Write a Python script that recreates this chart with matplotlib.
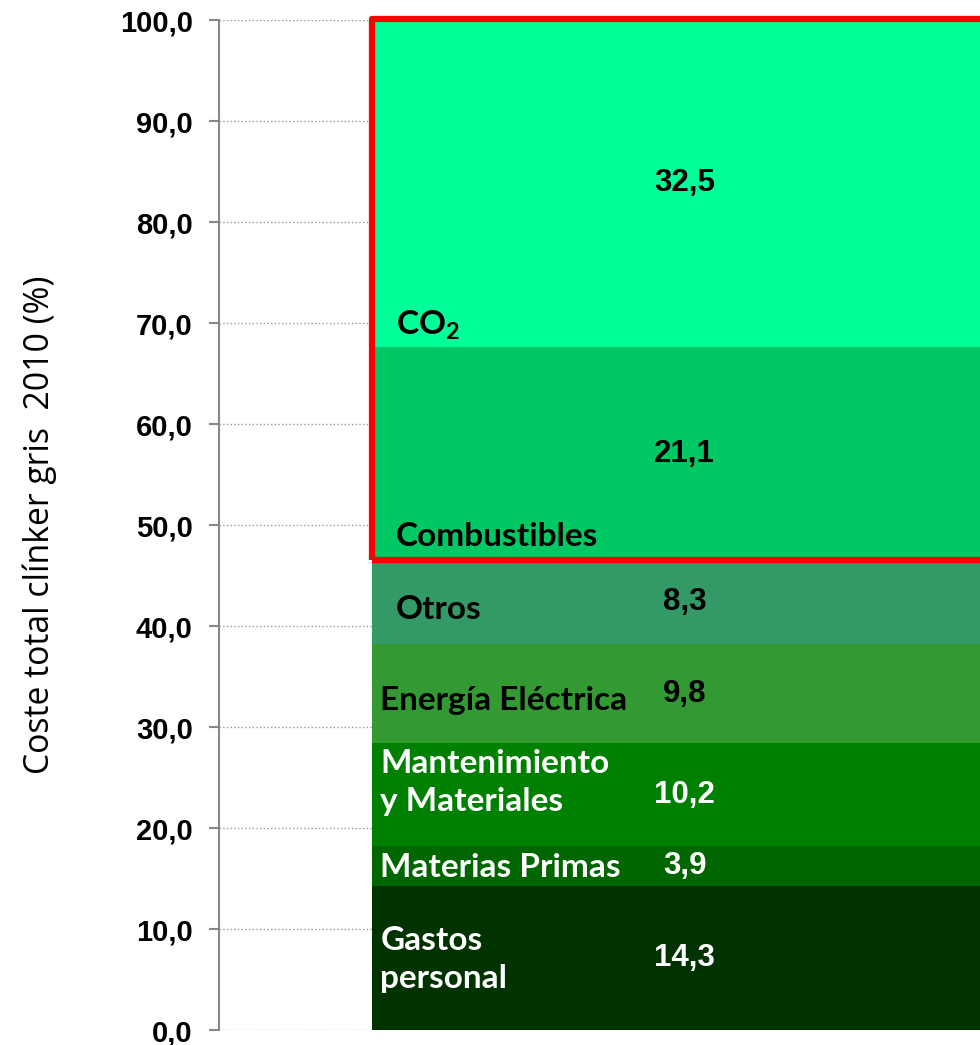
import matplotlib.pyplot as plt
from matplotlib.patches import Rectangle

plt.rcParams['mathtext.fontset'] = 'custom'
plt.rcParams['mathtext.bf'] = 'Lato:bold'
plt.rcParams['mathtext.rm'] = 'Lato:bold'

# segments from bottom to top
cats = ['Gastos\npersonal', 'Materias Primas', 'Mantenimiento\ny Materiales',
        'Energía Eléctrica', 'Otros', 'Combustibles', r'CO$_\mathbf{2}$']
vals = [14.3, 3.9, 10.2, 9.8, 8.3, 21.1, 32.5]
val_txt = ['14,3', '3,9', '10,2', '9,8', '8,3', '21,1', '32,5']
cols = ['#003300', '#006600', '#008000', '#339933', '#339966', '#00C864', '#00FF99']
txt_cols = ['white', 'white', 'white', 'black', 'black', 'black', 'black']

# where the category names sit (y) and their left offset
name_y = [7.0, 16.1, 24.5, 32.6, 41.6, 48.9, 69.8]
name_x = [0.212, 0.212, 0.212, 0.212, 0.232, 0.232, 0.232]

fig = plt.figure(figsize=(9.8, 10.45), dpi=100)
ax = fig.add_axes([0.2235, 0.01435, 0.7765, 0.9665])

x0 = 0.201
bot = 0
for i in range(len(vals)):
    ax.bar(x0, vals[i], width=1.2, bottom=bot, color=cols[i], align='edge', zorder=2)
    ax.text(0.612, bot + vals[i] / 2, val_txt[i], ha='center', va='center',
            fontsize=22.5, fontweight='bold', color=txt_cols[i], family='Liberation Sans', zorder=4)
    ax.text(name_x[i], name_y[i], cats[i], ha='left', va='center', fontsize=24,
            fontweight='bold', color=txt_cols[i], family='Lato', linespacing=1.4, zorder=4)
    bot += vals[i]

# red frame around energy costs (Combustibles + CO2)
start = sum(vals[:5])
ax.add_patch(Rectangle((x0, start), 1.2, bot - start, fill=False, edgecolor='#FF0000',
                       lw=4.5, joinstyle='round', zorder=5, clip_on=False))

ax.set_xlim(0, 1)
ax.set_ylim(0, 100)
ax.set_yticks(range(0, 101, 10))
ax.set_yticklabels(['%d,0' % v for v in range(0, 101, 10)], fontsize=21,
                   fontweight='bold', family='Liberation Sans')
ax.tick_params(axis='y', length=7, width=1.5, color='#888888', pad=12)
ax.set_xticks([])
ax.yaxis.grid(True, linestyle=':', color='#999999', lw=1, zorder=0)
ax.set_axisbelow(True)
for s in ['top', 'right', 'bottom']:
    ax.spines[s].set_visible(False)
ax.spines['left'].set_color('#888888')
ax.spines['left'].set_linewidth(1.5)
ax.set_ylabel('Coste total clínker gris  2010 (%)', fontsize=24.3, family='Open Sans', labelpad=45)

fig.savefig('out.png', dpi=100)
